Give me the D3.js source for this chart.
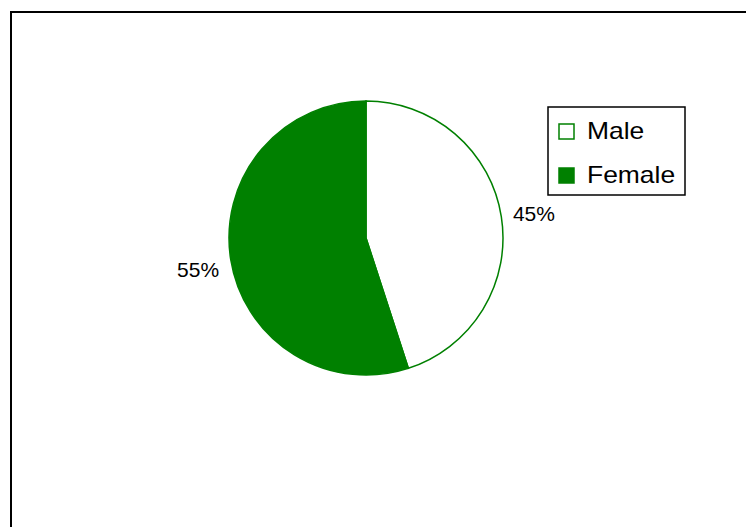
<!DOCTYPE html>
<html><head><meta charset="utf-8">
<script src="https://cdn.jsdelivr.net/npm/d3@7"></script>
<style>body{margin:0;background:#fff}svg{display:block}</style>
</head><body>
<svg id="c" width="746" height="527"></svg>
<script>
const categories = ["Male", "Female"];
const values = [45, 55];
const labels = ["45%", "55%"];
const colors = ["#ffffff", "#008000"];

const svg = d3.select("#c");
svg.append("rect").attr("width",746).attr("height",527).attr("fill","#fff");
// chart area frame (right/bottom beyond view)
svg.append("rect").attr("x",11).attr("y",12).attr("width",760).attr("height",540)
  .attr("fill","none").attr("stroke","#000").attr("stroke-width",2);

const cx = 366, cy = 238, r = 137;
const pie = d3.pie().sort(null).value(d=>d)(values);
const arc = d3.arc().innerRadius(0).outerRadius(r);
const g = svg.append("g").attr("transform",`translate(${cx},${cy})`);
g.selectAll("path").data(pie).join("path")
  .attr("d",arc)
  .attr("fill",(d,i)=>colors[i])
  .attr("stroke","#008000").attr("stroke-width",1.5);

const labArc = d3.arc().innerRadius(170).outerRadius(170);
g.selectAll("text").data(pie).join("text")
  .attr("x",d=>labArc.centroid(d)[0])
  .attr("y",d=>labArc.centroid(d)[1] + (d.index===1?12:10))
  .attr("text-anchor","middle")
  .attr("font-family","Liberation Sans, Arial, sans-serif")
  .attr("font-size",21).attr("fill","#000")
  .text((d,i)=>labels[i]);

// legend
const lg = svg.append("g");
lg.append("rect").attr("x",548).attr("y",107).attr("width",137).attr("height",88)
  .attr("fill","#fff").attr("stroke","#000").attr("stroke-width",1.5);
categories.forEach((c,i)=>{
  const base = 139 + i*44;
  lg.append("rect").attr("x",559).attr("y",base-15).attr("width",15).attr("height",15)
    .attr("fill",colors[i]).attr("stroke","#008000").attr("stroke-width",1.5);
  lg.append("text").attr("transform",`translate(587,${base}) scale(1.15,1)`)
    .attr("font-family","Liberation Sans, Arial, sans-serif")
    .attr("font-size",23).attr("fill","#000").text(c);
});
</script>
</body></html>
